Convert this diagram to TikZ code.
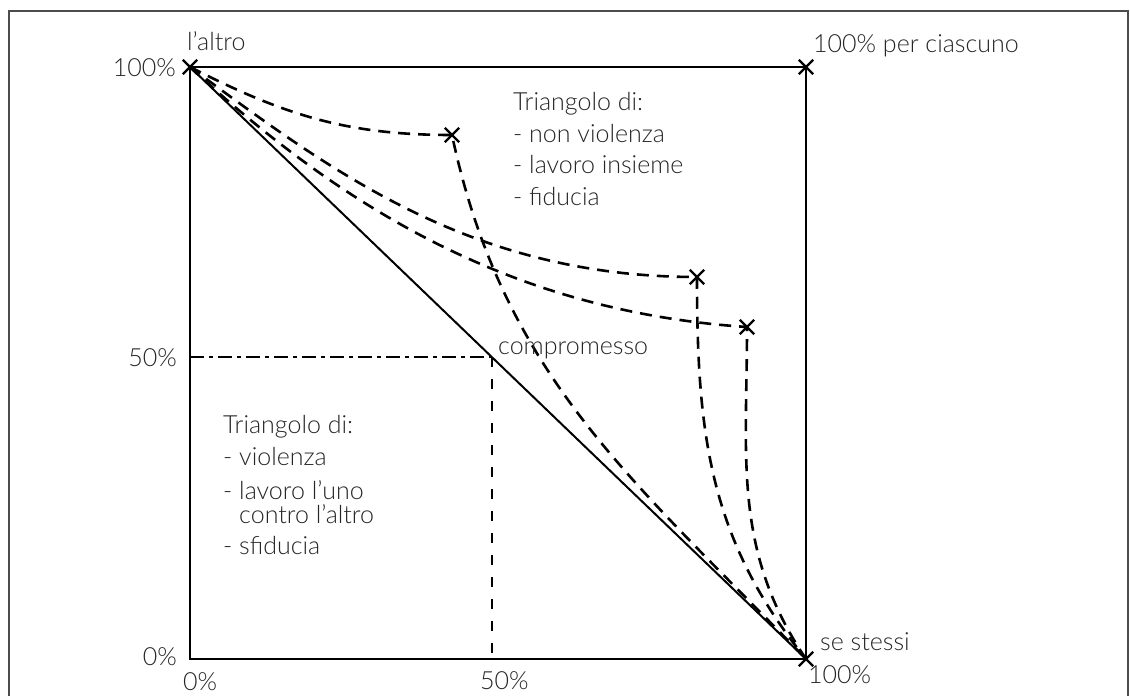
\documentclass[tikz,border=0pt]{standalone}
\usepackage{fontspec}
\setmainfont{Lato}[UprightFont=* Light]
\usetikzlibrary{positioning, shapes.misc}

\tikzset{
  lbl/.style={font=\fontsize{25}{30}\selectfont, text=black!85, inner sep=0pt, anchor=base west},
  lblr/.style={lbl, anchor=base east},
  axis/.style={line width=1.6pt},
  pathline/.style={line width=2.6pt, dash pattern=on 12pt off 8pt},
  xmark/.style={cross out, draw, line width=2.4pt, minimum size=12pt, inner sep=0pt}
}

\begin{document}
\begin{tikzpicture}[x=1pt, y=-1pt]
  \useasboundingbox (0,0) rectangle (1130,696);
  \draw[black!70, line width=1.2pt] (9,700) -- (9,11) -- (1128,11) -- (1128,700);

  \coordinate (O) at (190,659);
  \coordinate (A) at (190,67);
  \coordinate (B) at (806,67);
  \coordinate (C) at (806,659);
  \coordinate (M) at (492,357);
  \coordinate (P1) at (452,135);
  \coordinate (P2) at (697,277);
  \coordinate (P3) at (747,327);

  \draw[axis] (O) -- (A) -- (B) -- (C) -- cycle;
  \draw[line width=2pt] (A) -- (C);

  \draw[line width=2.2pt, dash pattern=on 14pt off 5pt on 4pt off 5pt] (O |- M) -- (M);
  \draw[line width=2.2pt, dash pattern=on 10pt off 12pt] (M) -- (M |- O);

  \draw[pathline] (A) to[out=-27, in=180] (P1) to[out=-78, in=134] (C);
  \draw[pathline] (A) .. controls (330,170) and (470,277) .. (P2) to[out=-90, in=129] (C);
  \draw[pathline] (A) .. controls (350,215) and (520,312) .. (P3) to[out=-90, in=124] (C);

  \foreach \p in {A,B,C,P1,P2,P3}
    \node (x\p) [xmark] at (\p) {};

  \node (altro) [lbl] at (187,50) {l’altro};
  \node (ciascuno) [lbl] at (813,52) {100\% per ciascuno};
  \node (stessi) [lbl] at (820,650) {se stessi};
  \node (compr) [lbl] at (498,354) {compromesso};

  \node (y100) [lblr] at (176,76) {100\%};
  \node (y50) [lblr] at (177,366) {50\%};
  \node (y0) [lblr] at (177,665) {0\%};
  \node (x0) [lbl] at (183,690) {0\%};
  \node (x50) [lbl] at (480,689) {50\%};
  \node (x100) [lbl] at (808,683) {100\%};

  \node (u1) [lbl] at (513,110) {Triangolo di:};
  \node (u2) [below=32pt of u1.base west, lbl] {- non violenza};
  \node (u3) [below=31pt of u2.base west, lbl] {- lavoro insieme};
  \node (u4) [below=32pt of u3.base west, lbl] {- fiducia};

  \node (l1) [lbl] at (223,433) {Triangolo di:};
  \node (l2) [below=32pt of l1.base west, lbl] {- violenza};
  \node (l3) [below=34pt of l2.base west, lbl] {- lavoro l’uno};
  \node (l4) [below=24pt of l3.base west, lbl] {\phantom{- }contro l’altro};
  \node (l5) [below=31pt of l4.base west, lbl] {- sfiducia};
\end{tikzpicture}
\end{document}
